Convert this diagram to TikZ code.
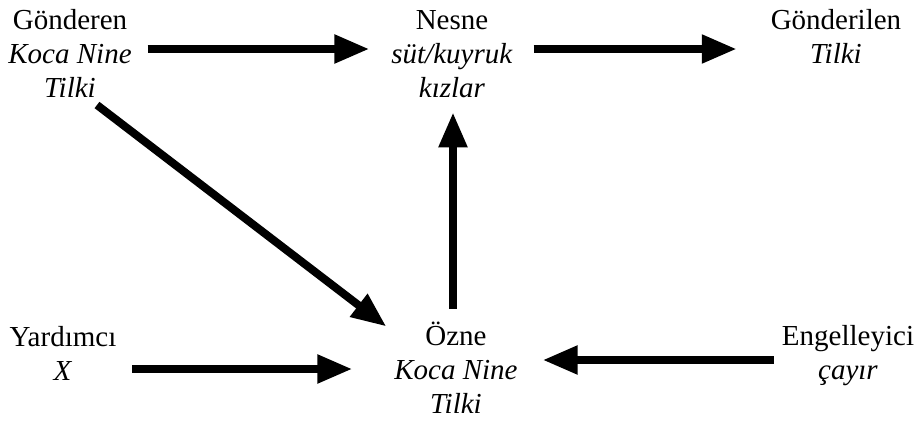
\documentclass[tikz,border=0pt]{standalone}
\usepackage{fontspec}
\setmainfont{Liberation Serif}
\usetikzlibrary{arrows.meta}
\begin{document}
\begin{tikzpicture}[x=0.5pt, y=-0.5pt,
  main/.style = {font=\fontsize{14.5}{17}\selectfont, align=center, inner sep=0pt, outer sep=0pt, anchor=base},
  link/.style = {-{Triangle[length=17.5pt, width=13.5pt]}, line width=4pt}]
  \useasboundingbox (0,0) rectangle (918,424);
  \node[main] (gonderen) at (70,97) {Gönderen\\\textit{Koca Nine}\\\textit{Tilki}};
  \node[main] (nesne) at (452,97) {Nesne\\\textit{süt/kuyruk}\\\textit{kızlar}};
  \node[main] (gonderilen) at (836,63) {Gönderilen\\\textit{Tilki}};
  \node[main] (yardimci) at (63,380) {Yardımcı\\\textit{X}};
  \node[main] (ozne) at (456,413) {Özne\\\textit{Koca Nine}\\\textit{Tilki}};
  \node[main] (engelleyici) at (848,379) {Engelleyici\\\textit{çayır}};
  \draw[link] ([shift={(16,-48)}]gonderen.base east) -- ([shift={(-22,-48)}]nesne.base west);
  \draw[link] ([shift={(21,-48)}]nesne.base east) -- ([shift={(-34,-14)}]gonderilen.base west);
  \draw[link] ([shift={(27,8)}]gonderen.south) -- ([shift={(-8,5)}]ozne.north west);
  \draw[link] ([shift={(-3,-13)}]ozne.north) -- ([shift={(1,15)}]nesne.south);
  \draw[link] ([shift={(16,-11)}]yardimci.base east) -- ([shift={(-42,-44)}]ozne.base west);
  \draw[link] ([shift={(-8,-19)}]engelleyici.base west) -- ([shift={(25,-53)}]ozne.base east);
\end{tikzpicture}
\end{document}
